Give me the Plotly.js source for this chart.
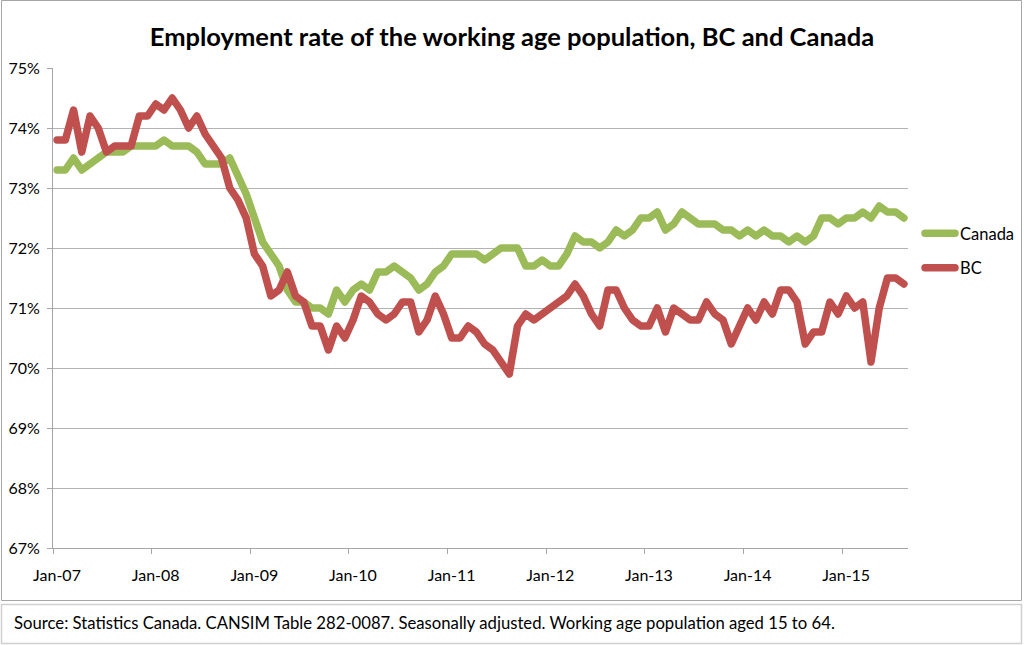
<!DOCTYPE html>
<html>
<head>
<meta charset="utf-8">
<script src="https://cdn.plot.ly/plotly-3.0.1.min.js"></script>
<style>
  html, body { margin: 0; padding: 0; background: #ffffff; }
  #chart { width: 1024px; height: 645px; }
  #chart path.js-line { stroke-linejoin: round; stroke-linecap: round; }
</style>
</head>
<body>
<div id="chart"></div>
<script>
// ---- Data (monthly, Jan-2007 to Aug-2015) ----
const startYear = 2007;
const monthNames = ["Jan","Feb","Mar","Apr","May","Jun","Jul","Aug","Sep","Oct","Nov","Dec"];

const canada = [
  73.3, 73.3, 73.5, 73.3, 73.4, 73.5, 73.6, 73.6, 73.6, 73.7, 73.7, 73.7,
  73.7, 73.8, 73.7, 73.7, 73.7, 73.6, 73.4, 73.4, 73.4, 73.5, 73.2, 72.9,
  72.5, 72.1, 71.9, 71.7, 71.3, 71.1, 71.1, 71.0, 71.0, 70.9, 71.3, 71.1,
  71.3, 71.4, 71.3, 71.6, 71.6, 71.7, 71.6, 71.5, 71.3, 71.4, 71.6, 71.7,
  71.9, 71.9, 71.9, 71.9, 71.8, 71.9, 72.0, 72.0, 72.0, 71.7, 71.7, 71.8,
  71.7, 71.7, 71.9, 72.2, 72.1, 72.1, 72.0, 72.1, 72.3, 72.2, 72.3, 72.5,
  72.5, 72.6, 72.3, 72.4, 72.6, 72.5, 72.4, 72.4, 72.4, 72.3, 72.3, 72.2,
  72.3, 72.2, 72.3, 72.2, 72.2, 72.1, 72.2, 72.1, 72.2, 72.5, 72.5, 72.4,
  72.5, 72.5, 72.6, 72.5, 72.7, 72.6, 72.6, 72.5
];

const bc = [
  73.8, 73.8, 74.3, 73.6, 74.2, 74.0, 73.6, 73.7, 73.7, 73.7, 74.2, 74.2,
  74.4, 74.3, 74.5, 74.3, 74.0, 74.2, 73.9, 73.7, 73.5, 73.0, 72.8, 72.5,
  71.9, 71.7, 71.2, 71.3, 71.6, 71.2, 71.1, 70.7, 70.7, 70.3, 70.7, 70.5,
  70.8, 71.2, 71.1, 70.9, 70.8, 70.9, 71.1, 71.1, 70.6, 70.8, 71.2, 70.9,
  70.5, 70.5, 70.7, 70.6, 70.4, 70.3, 70.1, 69.9, 70.7, 70.9, 70.8, 70.9,
  71.0, 71.1, 71.2, 71.4, 71.2, 70.9, 70.7, 71.3, 71.3, 71.0, 70.8, 70.7,
  70.7, 71.0, 70.6, 71.0, 70.9, 70.8, 70.8, 71.1, 70.9, 70.8, 70.4, 70.7,
  71.0, 70.8, 71.1, 70.9, 71.3, 71.3, 71.1, 70.4, 70.6, 70.6, 71.1, 70.9,
  71.2, 71.0, 71.1, 70.1, 71.0, 71.5, 71.5, 71.4
];

const tickLabels = ["Jan-07","Jan-08","Jan-09","Jan-10","Jan-11","Jan-12","Jan-13","Jan-14","Jan-15"];
const yTicks = [67, 68, 69, 70, 71, 72, 73, 74, 75];

// month category labels (hover text) and index positions
const months = canada.map((_, i) => monthNames[i % 12] + "-" + String((startYear + Math.floor(i / 12)) % 100).padStart(2, "0"));
const xIdx = months.map((_, i) => i);
const tickPos = tickLabels.map(lbl => months.indexOf(lbl) - 0.5);

// ---- Layout helpers (pixel -> paper) ----
const W = 1024, H = 645;
const M = { l: 53, r: 116, t: 68, b: 97, autoexpand: false };
const PW = W - M.l - M.r, PH = H - M.t - M.b;
const px = v => (v - M.l) / PW;
const py = v => (H - M.b - v) / PH;

const green = "#9BBB59", red = "#C0504D";
const FONT = "Lato, 'Open Sans', 'DejaVu Sans', sans-serif";

const traces = [
  { x: xIdx, y: canada, text: months, name: "Canada", type: "scatter", mode: "lines",
    line: { color: green, width: 7.5, shape: "linear" }, legendgroup: "a",
    hovertemplate: "%{text}: %{y:.1f}%<extra>Canada</extra>" },
  { x: xIdx, y: bc, text: months, name: "BC", type: "scatter", mode: "lines",
    line: { color: red, width: 7.5, shape: "linear" }, legendgroup: "b",
    hovertemplate: "%{text}: %{y:.1f}%<extra>BC</extra>" }
];

const layout = {
  width: W, height: H,
  margin: M,
  paper_bgcolor: "#ffffff", plot_bgcolor: "#ffffff",
  font: { family: FONT, size: 16, color: "#000000" },
  title: {
    text: "<b>Employment rate of the working age population, BC and Canada</b>",
    font: { family: FONT, size: 25.5, color: "#000000" },
    x: 0.5, xref: "container", xanchor: "center",
    y: 1 - 37 / H, yref: "container", yanchor: "middle"
  },
  xaxis: {
    range: [-0.5, canada.length - 0.5],
    tickmode: "array", tickvals: tickPos, ticktext: tickLabels,
    ticks: "outside", ticklen: 5, tickcolor: "#A6A6A6", tickwidth: 1,
    ticklabelshift: 4, ticklabelstandoff: 8,
    showgrid: false, zeroline: false,
    showline: true, linecolor: "#A6A6A6", linewidth: 1,
    tickfont: { family: FONT, size: 16, color: "#000000" },
    fixedrange: true
  },
  yaxis: {
    range: [67, 75],
    tickmode: "array", tickvals: yTicks, ticktext: yTicks.map(v => v + "%"),
    ticks: "outside", ticklen: 5, tickcolor: "#A6A6A6", tickwidth: 1,
    ticklabelstandoff: 4,
    showgrid: true, gridcolor: "#B3B3B3", gridwidth: 1,
    zeroline: false,
    showline: true, linecolor: "#A6A6A6", linewidth: 1,
    tickfont: { family: FONT, size: 16, color: "#000000" },
    fixedrange: true
  },
  showlegend: true,
  legend: {
    x: px(920), xanchor: "left", y: py(216), yanchor: "top",
    bgcolor: "rgba(0,0,0,0)", borderwidth: 0,
    font: { family: FONT, size: 16.5, color: "#000000" },
    traceorder: "grouped", tracegroupgap: 10,
    itemwidth: 30
  },
  shapes: [
    // chart-area border
    { type: "rect", xref: "paper", yref: "paper", x0: px(1.5), x1: px(1021.5), y0: py(600.5), y1: py(0.5),
      line: { color: "#A6A6A6", width: 1 }, fillcolor: "rgba(0,0,0,0)", layer: "below" },
    // source box border
    { type: "rect", xref: "paper", yref: "paper", x0: px(1.5), x1: px(1021.5), y0: py(643.5), y1: py(604.5),
      line: { color: "#D0D0D0", width: 1.5 }, fillcolor: "rgba(0,0,0,0)", layer: "below" }
  ],
  annotations: [
    { text: "Source: Statistics Canada. CANSIM Table 282-0087. Seasonally adjusted. Working age population aged 15 to 64.",
      xref: "paper", yref: "paper", x: px(12), y: py(623), xanchor: "left", yanchor: "middle",
      showarrow: false, font: { family: FONT, size: 16.7, color: "#000000" } }
  ]
};

Plotly.newPlot("chart", traces, layout, { displayModeBar: false, staticPlot: false });
</script>
</body>
</html>
